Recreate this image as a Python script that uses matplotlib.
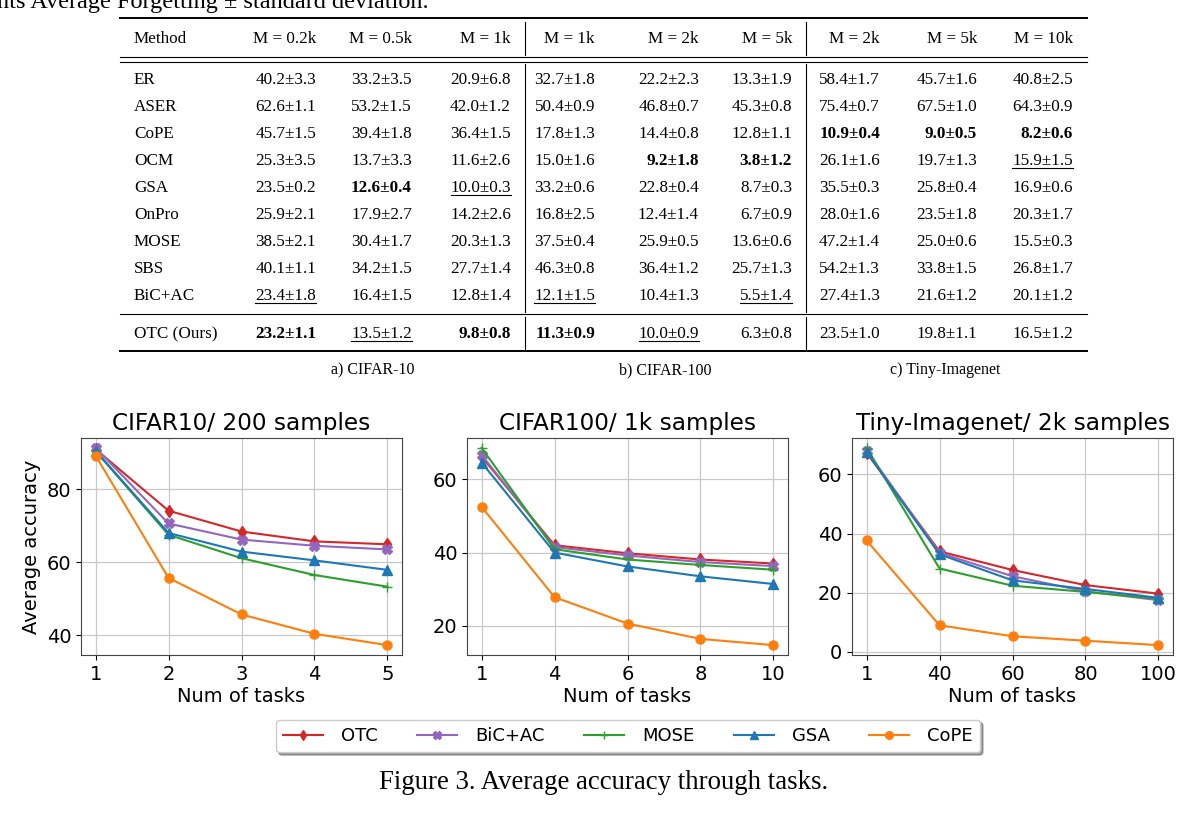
import matplotlib
matplotlib.use("Agg")
import matplotlib.pyplot as plt
from matplotlib.lines import Line2D

W, H = 1198, 813

# ---- table data ----
methods = ["ER", "ASER", "CoPE", "OCM", "GSA", "OnPro", "MOSE", "SBS", "BiC+AC", "OTC (Ours)"]
headers = ["M = 0.2k", "M = 0.5k", "M = 1k",
           "M = 1k", "M = 2k", "M = 5k",
           "M = 2k", "M = 5k", "M = 10k"]
cifar10_vals = [
    ["40.2±3.3", "33.2±3.5", "20.9±6.8"],
    ["62.6±1.1", "53.2±1.5", "42.0±1.2"],
    ["45.7±1.5", "39.4±1.8", "36.4±1.5"],
    ["25.3±3.5", "13.7±3.3", "11.6±2.6"],
    ["23.5±0.2", "12.6±0.4", "10.0±0.3"],
    ["25.9±2.1", "17.9±2.7", "14.2±2.6"],
    ["38.5±2.1", "30.4±1.7", "20.3±1.3"],
    ["40.1±1.1", "34.2±1.5", "27.7±1.4"],
    ["23.4±1.8", "16.4±1.5", "12.8±1.4"],
    ["23.2±1.1", "13.5±1.2", "9.8±0.8"],
]
cifar100_vals = [
    ["32.7±1.8", "22.2±2.3", "13.3±1.9"],
    ["50.4±0.9", "46.8±0.7", "45.3±0.8"],
    ["17.8±1.3", "14.4±0.8", "12.8±1.1"],
    ["15.0±1.6", "9.2±1.8", "3.8±1.2"],
    ["33.2±0.6", "22.8±0.4", "8.7±0.3"],
    ["16.8±2.5", "12.4±1.4", "6.7±0.9"],
    ["37.5±0.4", "25.9±0.5", "13.6±0.6"],
    ["46.3±0.8", "36.4±1.2", "25.7±1.3"],
    ["12.1±1.5", "10.4±1.3", "5.5±1.4"],
    ["11.3±0.9", "10.0±0.9", "6.3±0.8"],
]
tiny_vals = [
    ["58.4±1.7", "45.7±1.6", "40.8±2.5"],
    ["75.4±0.7", "67.5±1.0", "64.3±0.9"],
    ["10.9±0.4", "9.0±0.5", "8.2±0.6"],
    ["26.1±1.6", "19.7±1.3", "15.9±1.5"],
    ["35.5±0.3", "25.8±0.4", "16.9±0.6"],
    ["28.0±1.6", "23.5±1.8", "20.3±1.7"],
    ["47.2±1.4", "25.0±0.6", "15.5±0.3"],
    ["54.2±1.3", "33.8±1.5", "26.8±1.7"],
    ["27.4±1.3", "21.6±1.2", "20.1±1.2"],
    ["23.5±1.0", "19.8±1.1", "16.5±1.2"],
]
bold_cells = [("OTC (Ours)", 0), ("GSA", 1), ("OTC (Ours)", 2), ("OTC (Ours)", 3),
              ("OCM", 4), ("OCM", 5), ("CoPE", 6), ("CoPE", 7), ("CoPE", 8)]
under_cells = [("BiC+AC", 0), ("OTC (Ours)", 1), ("GSA", 2), ("BiC+AC", 3),
               ("OTC (Ours)", 4), ("BiC+AC", 5), ("OCM", 8)]
subcaptions = ["a) CIFAR-10", "b) CIFAR-100", "c) Tiny-Imagenet"]

# ---- chart data ----
series_names = ["OTC", "BiC+AC", "MOSE", "GSA", "CoPE"]
series_colors = ["tab:red", "tab:purple", "tab:green", "tab:blue", "tab:orange"]
series_markers = ["d", "X", "+", "^", "o"]

c10_ticks = ["1", "2", "3", "4", "5"]
c10_otc = [90.9, 74.1, 68.4, 65.7, 64.9]
c10_bic = [91.3, 70.6, 66.2, 64.5, 63.5]
c10_mose = [90.4, 67.5, 61.1, 56.5, 53.3]
c10_gsa = [90.5, 68.0, 62.9, 60.5, 57.9]
c10_cope = [89.2, 55.7, 45.7, 40.4, 37.3]

c100_ticks = ["1", "4", "6", "8", "10"]
c100_otc = [66.2, 42.0, 39.8, 38.1, 37.0]
c100_bic = [66.7, 41.5, 39.2, 37.4, 36.3]
c100_mose = [68.6, 40.9, 38.1, 36.6, 35.3]
c100_gsa = [64.6, 40.0, 36.2, 33.5, 31.4]
c100_cope = [52.5, 27.8, 20.6, 16.4, 14.7]

tiny_ticks = ["1", "40", "60", "80", "100"]
tiny_otc = [67.3, 34.0, 27.7, 22.6, 19.7]
tiny_bic = [68.1, 33.5, 25.6, 20.5, 17.5]
tiny_mose = [69.0, 28.2, 22.4, 20.3, 18.0]
tiny_gsa = [67.6, 33.0, 24.2, 21.3, 18.3]
tiny_cope = [37.7, 9.0, 5.3, 3.8, 2.3]

fig = plt.figure(figsize=(W / 100, H / 100), dpi=100)
serif = "Liberation Serif"


def fx(x):
    return x / W


def fy(y):
    return 1 - y / H


def hline(x0, x1, y, lw=1.0):
    fig.add_artist(Line2D([fx(x0), fx(x1)], [fy(y), fy(y)], color="black", lw=lw))


def vline(x, y0, y1, lw=0.8):
    fig.add_artist(Line2D([fx(x), fx(x)], [fy(y0), fy(y1)], color="black", lw=lw))


# cut-off text from the paper above (cut by the page crop, as in the reference)
fig.text(fx(-3), fy(8), "nts Average Forgetting ± standard deviation.", fontsize=17.5,
         family=serif, va="baseline", ha="left")

# ---- table ----
tx0, tx1 = 120, 1087
col_right = [316, 412, 511, 595, 699, 792, 880, 977, 1073]
row_y = [79 + 27 * i for i in range(9)] + [333]
fs = 12.3

hline(tx0, tx1, 18, 1.4)
hline(tx0, tx1, 57, 0.8)
hline(tx0, tx1, 62, 0.8)
hline(tx0, tx1, 314, 0.8)
hline(tx0, tx1, 351, 1.4)
for xv in [525, 806]:
    vline(xv, 22, 55)
    vline(xv, 64, 312)
    vline(xv, 317, 349)

fig.text(fx(134), fy(38 + 5), "Method", fontsize=fs, family=serif, va="baseline")
for j, h in enumerate(headers):
    fig.text(fx(col_right[j]), fy(38 + 5), h, fontsize=fs, family=serif, va="baseline", ha="right")

under_texts = []
all_vals = [cifar10_vals, cifar100_vals, tiny_vals]
for i, m in enumerate(methods):
    yb = row_y[i] + 5
    fig.text(fx(134), fy(yb), m, fontsize=fs, family=serif, va="baseline")
    for d in range(3):
        for k in range(3):
            j = d * 3 + k
            weight = "bold" if (m, j) in bold_cells else "normal"
            t = fig.text(fx(col_right[j]), fy(yb), all_vals[d][i][k], fontsize=fs,
                         family=serif, va="baseline", ha="right", weight=weight)
            if (m, j) in under_cells:
                under_texts.append((t, yb))

for s, xc in zip(subcaptions, [373, 665, 945]):
    fig.text(fx(xc), fy(369 + 5), s, fontsize=11.5, family=serif, va="baseline", ha="center")

# ---- charts ----
charts = [
    ("CIFAR10/ 200 samples", c10_ticks, [c10_otc, c10_bic, c10_mose, c10_gsa, c10_cope], [40, 60, 80]),
    ("CIFAR100/ 1k samples", c100_ticks, [c100_otc, c100_bic, c100_mose, c100_gsa, c100_cope], [20, 40, 60]),
    ("Tiny-Imagenet/ 2k samples", tiny_ticks, [tiny_otc, tiny_bic, tiny_mose, tiny_gsa, tiny_cope], [0, 20, 40, 60]),
]
lefts = [81, 467, 852]
ax_w, ax_top, ax_bot = 321, 438, 655

for n, (title, ticks, ys, yt) in enumerate(charts):
    ax = fig.add_axes([fx(lefts[n]), fy(ax_bot), ax_w / W, (ax_bot - ax_top) / H])
    xs = list(range(len(ticks)))
    for name, vals, c, mk in zip(series_names, ys, series_colors, series_markers):
        ax.plot(xs, vals, color=c, marker=mk, markersize=6.5, lw=1.5, label=name)
    ax.set_xticks(xs)
    ax.set_xticklabels(ticks)
    ax.set_yticks(yt)
    ax.grid(True, color="#c8c8c8", lw=0.9)
    ax.set_axisbelow(True)
    ax.tick_params(labelsize=14)
    ax.set_title(title, fontsize=16.7, pad=6)
    ax.set_xlabel("Num of tasks", fontsize=14, labelpad=2)
    if n == 0:
        ax.set_ylabel("Average accuracy", fontsize=14)
        handles, labels = ax.get_legend_handles_labels()
    for sp in ax.spines.values():
        sp.set_color("#444444")

fig.legend(handles, labels, ncol=5, loc="center", bbox_to_anchor=(fx(628), fy(736)),
           fontsize=13, shadow=True, handlelength=2.2, handletextpad=1.0,
           columnspacing=2.2, markerscale=0.85)

fig.text(fx(604), fy(783 + 6), "Figure 3. Average accuracy through tasks.", fontsize=19.3,
         family=serif, va="baseline", ha="center")

# underlines for second-best entries
renderer = fig.canvas.get_renderer()
for t, yb in under_texts:
    bb = t.get_window_extent(renderer)
    hline(bb.x0, bb.x1, yb + 3, 0.8)

fig.savefig("out.png", dpi=100)
